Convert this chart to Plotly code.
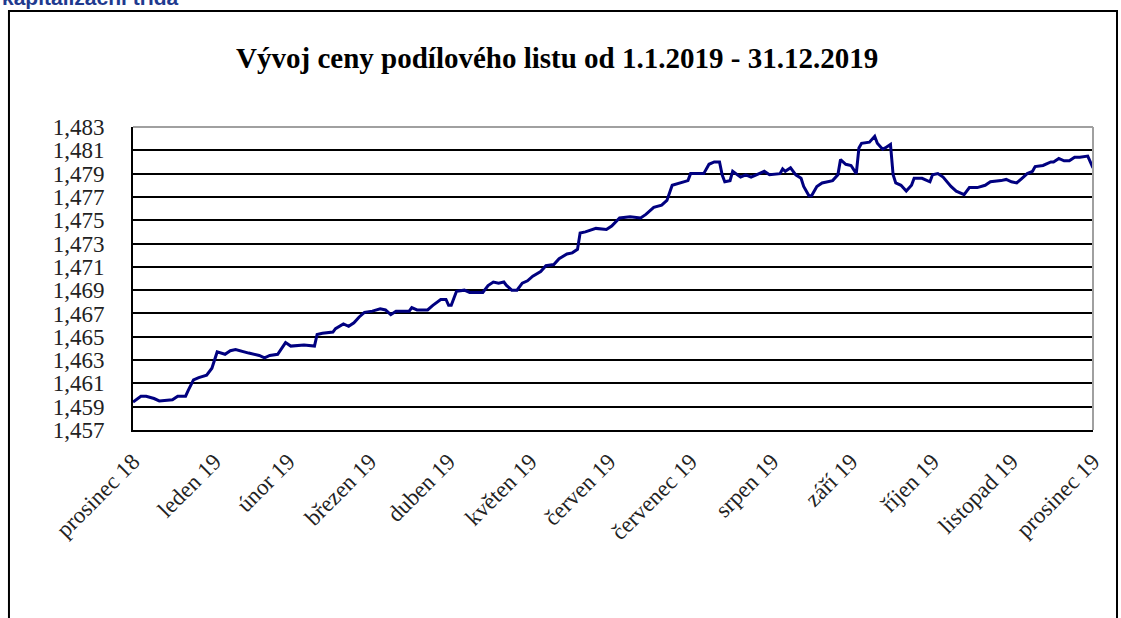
import pandas as pd
import plotly.graph_objects as go

# price of one unit (day offset from 31.12.2018)
days = [0, 3, 5, 8, 10, 15, 17, 20, 21, 23,
        25, 28, 30, 31, 32, 35, 37, 39, 42, 44,
        48, 50, 52, 55, 58, 60, 65, 69, 70, 72,
        76, 77, 80, 82, 84, 86, 88, 91, 94, 96,
        98, 100, 105, 106, 108, 112, 114, 117, 119, 120,
        121, 123, 126, 128, 133, 135, 137, 139, 141, 142,
        144, 146, 148, 150, 152, 155, 157, 160, 162, 165,
        167, 169, 170, 172, 176, 180, 182, 185, 189, 193,
        195, 198, 201, 203, 205, 208, 211, 212, 217, 219,
        221, 223, 224, 225, 227, 228, 230, 231, 233, 235,
        237, 240, 242, 246, 247, 248, 250, 252, 254, 255,
        257, 258, 260, 262, 266, 268, 269, 271, 273, 275,
        276, 277, 280, 282, 283, 285, 286, 288, 289, 290,
        292, 294, 296, 297, 300, 303, 304, 306, 308, 311,
        313, 316, 318, 321, 324, 326, 330, 332, 334, 336,
        338, 340, 342, 343, 346, 349, 350, 352, 354, 356,
        358, 360, 363, 365]

prices = [1.4594, 1.4599, 1.4599, 1.4597, 1.4595, 1.4596, 1.4599, 1.4599, 1.4604, 1.4613,
          1.4615, 1.4617, 1.4623, 1.4630, 1.4637, 1.4635, 1.4638, 1.4639, 1.4637, 1.4636,
          1.4634, 1.4632, 1.4634, 1.4635, 1.4645, 1.4642, 1.4643, 1.4642, 1.4652, 1.4653,
          1.4654, 1.4657, 1.4661, 1.4659, 1.4662, 1.4667, 1.4671, 1.4672, 1.4674, 1.4673,
          1.4669, 1.4672, 1.4672, 1.4675, 1.4673, 1.4673, 1.4677, 1.4682, 1.4682, 1.4677,
          1.4677, 1.4689, 1.4690, 1.4688, 1.4688, 1.4694, 1.4697, 1.4696, 1.4697, 1.4694,
          1.4690, 1.4690, 1.4696, 1.4698, 1.4702, 1.4706, 1.4711, 1.4712, 1.4717, 1.4721,
          1.4722, 1.4725, 1.4739, 1.4740, 1.4743, 1.4742, 1.4745, 1.4752, 1.4753, 1.4752,
          1.4755, 1.4761, 1.4763, 1.4767, 1.4780, 1.4782, 1.4784, 1.4790, 1.4790, 1.4798,
          1.4800, 1.4800, 1.4789, 1.4783, 1.4784, 1.4792, 1.4789, 1.4787, 1.4789, 1.4787,
          1.4789, 1.4792, 1.4789, 1.4790, 1.4794, 1.4792, 1.4795, 1.4789, 1.4786, 1.4779,
          1.4771, 1.4771, 1.4779, 1.4782, 1.4784, 1.4789, 1.4802, 1.4798, 1.4797, 1.4790,
          1.4812, 1.4816, 1.4817, 1.4822, 1.4816, 1.4811, 1.4812, 1.4815, 1.4789, 1.4782,
          1.4780, 1.4775, 1.4780, 1.4786, 1.4786, 1.4783, 1.4789, 1.4790, 1.4787, 1.4779,
          1.4775, 1.4772, 1.4778, 1.4778, 1.4780, 1.4783, 1.4784, 1.4785, 1.4783, 1.4782,
          1.4786, 1.4790, 1.4792, 1.4796, 1.4797, 1.4800, 1.4800, 1.4803, 1.4801, 1.4801,
          1.4804, 1.4804, 1.4805, 1.4795]

month_labels = ['prosinec 18', 'leden 19', 'únor 19', 'březen 19', 'duben 19',
                'květen 19', 'červen 19', 'červenec 19', 'srpen 19', 'září 19',
                'říjen 19', 'listopad 19', 'prosinec 19']

start = pd.Timestamp('2018-12-31')
dates = start + pd.to_timedelta(days, unit='D')
month_ends = pd.date_range(start, periods=len(month_labels), freq='ME')

serif = 'Liberation Serif, Times New Roman, serif'

trace = go.Scatter(
    x=dates,
    y=prices,
    mode='lines',
    line=dict(color='#000080', width=3),
    showlegend=False,
    hoverinfo='x+y'
)

layout = go.Layout(
    width=1121,
    height=618,
    autosize=False,
    paper_bgcolor='white',
    plot_bgcolor='white',
    separators=', ',
    margin=dict(l=133, r=28, t=127, b=188),
    title=dict(
        text='<b>Vývoj ceny podílového listu od 1.1.2019 - 31.12.2019</b>',
        font=dict(family=serif, size=29, color='#000000'),
        x=0.497, xref='container', xanchor='center',
        y=0.906, yref='container', yanchor='middle'
    ),
    xaxis=dict(
        range=[start, start + pd.Timedelta(days=365)],
        tickvals=month_ends,
        ticktext=month_labels,
        tickangle=-45,
        tickfont=dict(family=serif, size=23, color='#222222'),
        ticks='',
        ticklabelstandoff=7,
        showgrid=False,
        showline=True,
        linecolor='#000000',
        linewidth=2,
        zeroline=False
    ),
    yaxis=dict(
        range=[1.457, 1.483],
        dtick=0.002,
        tick0=1.457,
        tickformat='.3f',
        tickfont=dict(family=serif, size=23, color='#222222'),
        ticks='',
        ticklabelstandoff=22,
        showgrid=True,
        gridcolor='#000000',
        gridwidth=1.5,
        showline=True,
        linecolor='#000000',
        linewidth=2,
        zeroline=False
    ),
    shapes=[
        # grey top and right edges of the plot area
        dict(type='line', xref='paper', yref='paper', x0=0, x1=1, y0=1, y1=1,
             line=dict(color='#a0a0a0', width=2), layer='above'),
        dict(type='line', xref='paper', yref='paper', x0=1, x1=1, y0=0, y1=1,
             line=dict(color='#a0a0a0', width=2), layer='above'),
        # outer frame of the chart object
        dict(type='rect', xref='paper', yref='paper', x0=-0.1292, x1=1.025,
             y0=-0.70, y1=1.383, line=dict(color='#000000', width=2)),
    ],
    annotations=[
        dict(text='<b>kapitalizační třída</b>', xref='paper', yref='paper',
             x=-0.1385, y=1.383, xanchor='left', yanchor='bottom', showarrow=False,
             font=dict(family='Liberation Sans, Arial, sans-serif', size=21, color='#1f3a8f'))
    ]
)

fig = go.Figure(data=[trace], layout=layout)
# drop the default page margin so the figure sits at the window's top-left corner
fig.write_html('out.html', config={'displayModeBar': False},
               post_script="document.body.style.margin='0px';")
